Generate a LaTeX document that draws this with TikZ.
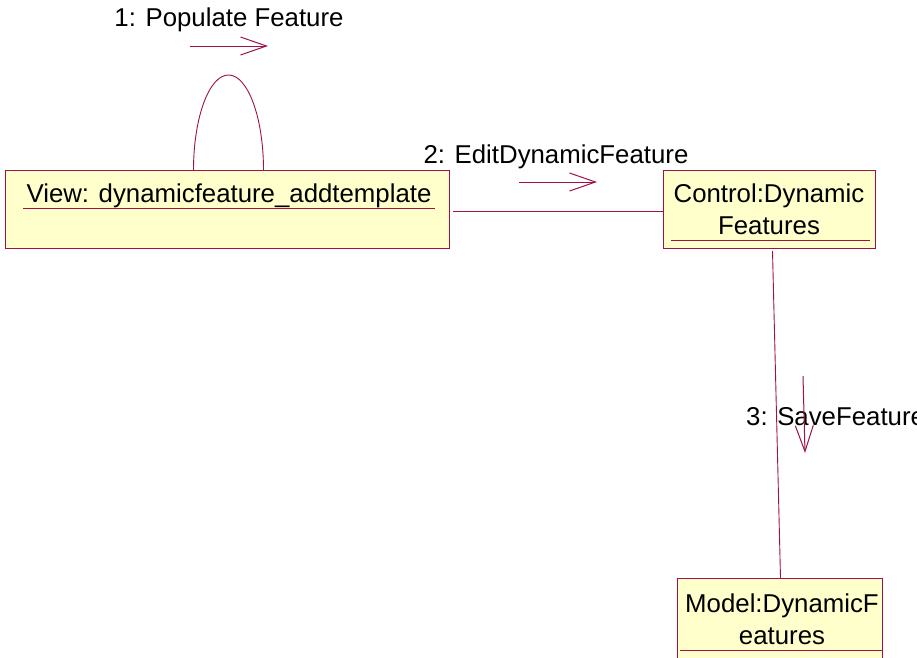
\documentclass[tikz,border=0pt]{standalone}
\usepackage{fontspec}
\setmainfont{Liberation Sans}
\usetikzlibrary{arrows.meta,calc}
\definecolor{umlline}{HTML}{A0104A}
\definecolor{umlfill}{HTML}{FFFFCC}
\tikzset{
  objbox/.style={draw=umlline, fill=umlfill, line width=1pt, inner sep=0pt, anchor=north west},
  lbl/.style={font=\fontsize{25.8}{32}\selectfont, inner sep=0pt, align=center, text=black},
  conn/.style={draw=umlline, line width=0.9pt},
  msg/.style={draw=umlline, line width=1pt, -{Straight Barb[length=26pt,width=18pt,line width=1pt]}},
  uline/.style={draw=umlline, line width=1pt}
}
\begin{document}
\begin{tikzpicture}[x=1pt,y=-1pt]
\useasboundingbox (0,0) rectangle (917,657);
\clip (0,0) rectangle (917,657);
% boxes
\node[objbox, minimum width=444pt, minimum height=78pt] (view) at (5,170) {};
\node[objbox, minimum width=212pt, minimum height=78pt] (ctrl) at (663,170) {};
\node[objbox, minimum width=205pt, minimum height=100pt] (model) at (677,578) {};
% texts
\node[lbl] (viewt) at (229,196) {View: dynamicfeature\_addtemplate};
\node[lbl] (ctrlt) at (769,209) {Control:Dynamic\\Features};
\node[lbl] (modelt) at (782,619) {Model:DynamicF\\eatures};
% underlines
\draw[uline] (23,208) -- (435,208);
\draw[uline] (671,240) -- (870,240);
\draw[uline] (680,650) -- (883,650);
% connectors
\coordinate (loopA) at ($(view.north)+(-34,0)$);
\coordinate (loopB) at ($(view.north)+(36,0)$);
\draw[conn] (loopA) arc[start angle=180, end angle=0, x radius=35, y radius=-95];
\coordinate (vc1) at ($(view.east)+(3,2)$);
\draw[conn] (vc1) -- (vc1 -| ctrl.west);
\coordinate (cm1) at ($(ctrl.south)+(3,2)$);
\coordinate (cm2) at ($(model.north)+(0.5,0)$);
\draw[conn] (cm1) -- (cm2);
% messages
\node[lbl] (m1) at (229,20) {1: Populate Feature};
\coordinate (m1a) at (190,46);
\coordinate (m1b) at (268,46);
\draw[msg] (m1a) -- (m1b);
\node[lbl] (m2) at (556,157) {2: EditDynamicFeature};
\coordinate (m2a) at (519,182);
\coordinate (m2b) at (597,182);
\draw[msg] (m2a) -- (m2b);
\node[lbl, anchor=west] (m3) at (746,417) {3: SaveFeature};
\coordinate (m3a) at (803,376);
\coordinate (m3b) at (805,453);
\draw[msg] (m3a) -- (m3b);
\end{tikzpicture}
\end{document}
